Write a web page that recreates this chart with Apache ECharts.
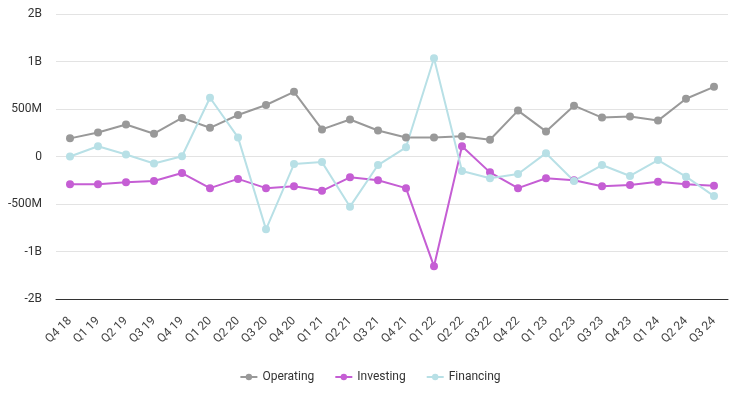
<!DOCTYPE html>
<html>
<head>
<meta charset="utf-8">
<script src="https://cdn.jsdelivr.net/npm/echarts@6/dist/echarts.min.js"></script>
<style>html,body{margin:0;padding:0;background:#fff}#c{width:740px;height:399px}</style>
</head>
<body>
<div id="c"></div>
<script>
var categories = ['Q4 18','Q1 19','Q2 19','Q3 19','Q4 19','Q1 20','Q2 20','Q3 20','Q4 20','Q1 21','Q2 21','Q3 21','Q4 21','Q1 22','Q2 22','Q3 22','Q4 22','Q1 23','Q2 23','Q3 23','Q4 23','Q1 24','Q2 24','Q3 24'];
var operating = [191,253,337,240,406,302,437,542,681,285,389,274,201,201,212,177,483,264,535,410,420,378,608,733];
var investing = [-292,-292,-271,-257,-174,-333,-236,-333,-313,-361,-219,-250,-333,-1156,108,-167,-333,-229,-250,-313,-299,-267,-292,-309];
var financing = [0,108,21,-73,3,618,201,-767,-80,-59,-528,-90,97,1035,-153,-229,-184,35,-257,-90,-205,-38,-212,-417];
var yTickLabels = ['-2B','-1B','-500M','0','500M','1B','2B'];

var chart = echarts.init(document.getElementById('c'));
function mk(name, data, color) {
  return {
    name: name, type: 'line', data: data.map(function(v){return v*1e6;}),
    symbol: 'circle', symbolSize: 8,
    lineStyle: {width: 2, color: color},
    itemStyle: {color: color},
    emphasis: {disabled: true}
  };
}
chart.setOption({
  animation: false,
  grid: {left: 56, right: 12, top: 14, bottom: 100},
  legend: {
    bottom: 11, left: 'center', itemWidth: 17, itemHeight: 8, itemGap: 20,
    textStyle: {color: '#333', fontSize: 12, fontFamily: 'Roboto'},
    data: ['Operating','Investing','Financing']
  },
  xAxis: {
    type: 'category', data: categories, boundaryGap: true,
    axisLine: {onZero: false, lineStyle: {color: '#333', width: 1}},
    axisTick: {show: false},
    axisLabel: {rotate: 45, color: '#444', fontSize: 12, fontFamily: 'Roboto', interval: 0, margin: 20}
  },
  yAxis: {
    type: 'value', min: -1.5e9, max: 1.5e9, interval: 5e8,
    axisLine: {show: false}, axisTick: {show: false},
    splitLine: {lineStyle: {color: '#e3e3e3'}},
    axisLabel: {
      color: '#333', fontSize: 12, fontFamily: 'Roboto', margin: 14,
      formatter: function(v){ var i = Math.round((v + 1.5e9)/5e8); return yTickLabels[i]; }
    }
  },
  series: [
    mk('Operating', operating, '#999999'),
    mk('Investing', investing, '#c55ed4'),
    mk('Financing', financing, '#b8e0e6')
  ]
});
</script>
</body>
</html>
